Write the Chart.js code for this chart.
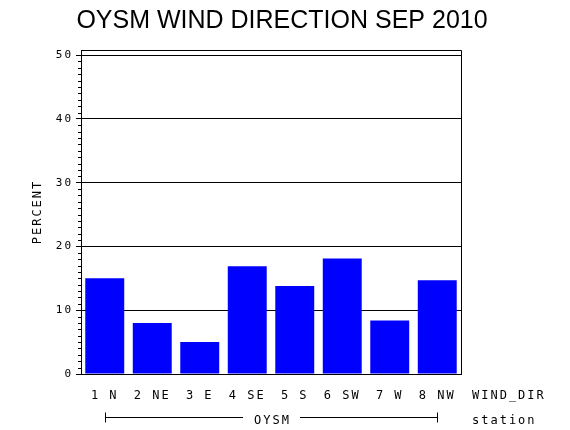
<!DOCTYPE html>
<html>
<head>
<meta charset="utf-8">
<script src="https://cdn.jsdelivr.net/npm/chart.js@4.4.0/dist/chart.umd.min.js"></script>
<style>
  html, body { margin: 0; padding: 0; background: #fff; }
  #wrap { width: 570px; height: 430px; }
</style>
</head>
<body>
<div id="wrap"><canvas id="windChart" width="570" height="430"></canvas></div>
<script>
// chart data
const titleText = "OYSM WIND DIRECTION SEP 2010";
const directions = ["1 N", "2 NE", "3 E", "4 SE", "5 S", "6 SW", "7 W", "8 NW"];
const percents = [15.0, 8.0, 5.0, 16.9, 13.8, 18.1, 8.4, 14.7];
const yTicks = [0, 10, 20, 30, 40, 50];
const yMax = 50.8;
const stationName = "OYSM";
const xAxisName = "WIND_DIR";
const groupName = "station";

const monoFont = "'DejaVu Sans Mono', monospace";

// frame, minor ticks, station bracket and title
const framePlugin = {
  id: "frame",
  beforeDraw(chart) {
    chart.ctx.letterSpacing = "2px";
  },
  afterDraw(chart) {
    const { ctx, chartArea: a, scales: { x, y } } = chart;
    ctx.save();
    ctx.strokeStyle = "#000";
    ctx.fillStyle = "#000";
    ctx.lineWidth = 1;

    // top + right edge
    ctx.beginPath();
    ctx.moveTo(a.left, Math.round(a.top) + 0.5);
    ctx.lineTo(Math.round(a.right) + 0.5, Math.round(a.top) + 0.5);
    ctx.lineTo(Math.round(a.right) + 0.5, a.bottom);
    ctx.stroke();

    // minor ticks every 1 unit
    ctx.beginPath();
    for (let v = 1; v < yMax; v++) {
      if (v % 10 === 0) continue;
      const py = Math.round(y.getPixelForValue(v)) + 0.5;
      ctx.moveTo(a.left - 3, py);
      ctx.lineTo(a.left, py);
    }
    ctx.stroke();

    // station bracket
    ctx.font = "12px " + monoFont;
    const x0 = Math.round(x.getPixelForValue(0)) + 0.5;
    const x1 = Math.round(x.getPixelForValue(directions.length - 1)) + 0.5;
    const mid = (x0 + x1) / 2;
    const gap = ctx.measureText(stationName).width / 2 + 10;
    const by = 417.5;
    ctx.beginPath();
    ctx.moveTo(x0, by); ctx.lineTo(mid - gap, by);
    ctx.moveTo(mid + gap, by); ctx.lineTo(x1, by);
    ctx.moveTo(x0, by - 5); ctx.lineTo(x0, by + 5);
    ctx.moveTo(x1, by - 5); ctx.lineTo(x1, by + 5);
    ctx.stroke();

    ctx.textBaseline = "alphabetic";
    ctx.textAlign = "center";
    ctx.fillText(stationName, mid + 1, 424);
    ctx.textAlign = "left";
    ctx.fillText(xAxisName, 472, 398.5);
    ctx.fillText(groupName, 472, 424);

    // title
    ctx.letterSpacing = "0px";
    ctx.font = "25px 'Liberation Sans', Arial, sans-serif";
    ctx.textAlign = "center";
    ctx.fillText(titleText, 282, 27.5);
    ctx.restore();
  }
};

new Chart(document.getElementById("windChart"), {
  type: "bar",
  data: {
    labels: directions,
    datasets: [{
      data: percents,
      backgroundColor: "#0000ff",
      borderWidth: 0,
      barPercentage: 0.82,
      categoryPercentage: 1
    }]
  },
  options: {
    responsive: false,
    animation: false,
    layout: { padding: { top: 50, right: 109, bottom: 0, left: 0 } },
    plugins: { legend: { display: false }, tooltip: { enabled: false } },
    scales: {
      x: {
        afterFit(scale) { scale.height = 56; },
        grid: { display: false },
        border: { color: "#000", width: 1 },
        ticks: {
          color: "#000",
          font: { family: monoFont, size: 12 },
          padding: 7,
          maxRotation: 0,
          autoSkip: false
        }
      },
      y: {
        min: 0,
        max: yMax,
        afterFit(scale) { scale.width = 81; },
        afterBuildTicks(scale) { scale.ticks = yTicks.map(v => ({ value: v })); },
        grid: { color: "#000", lineWidth: 1, tickLength: 5 },
        border: { color: "#000", width: 1 },
        ticks: { color: "#000", font: { family: monoFont, size: 11 }, padding: 3 },
        title: {
          display: true,
          text: "PERCENT",
          color: "#000",
          font: { family: monoFont, size: 12 },
          padding: { top: 31, bottom: 0 }
        }
      }
    }
  },
  plugins: [framePlugin]
});
</script>
</body>
</html>
